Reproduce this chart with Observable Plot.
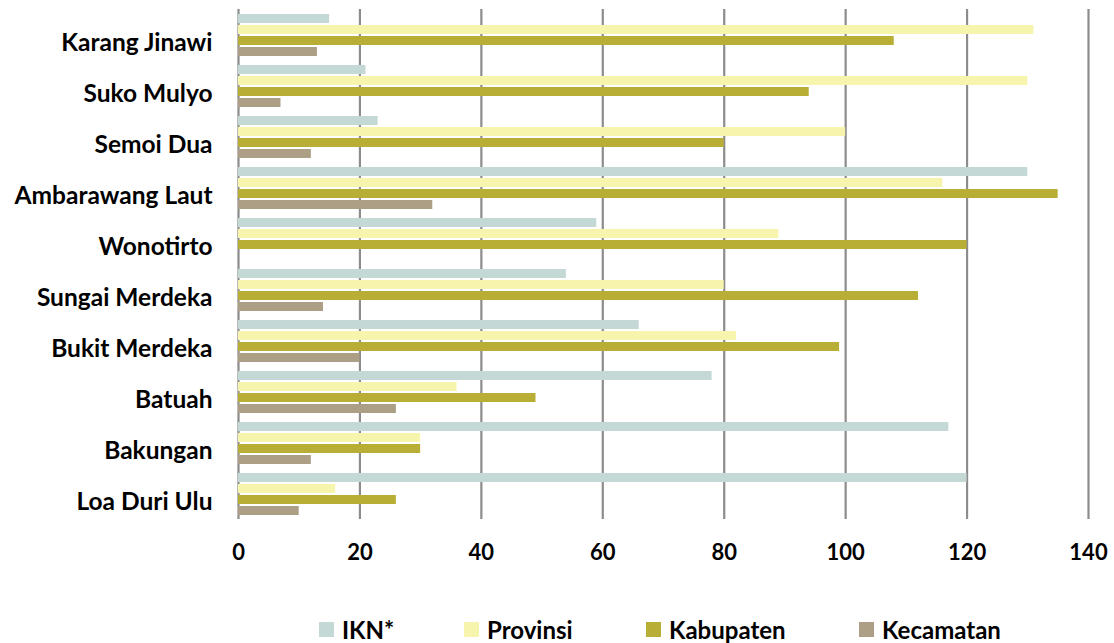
<!DOCTYPE html>
<html>
<head>
<meta charset="utf-8">
<script src="https://cdn.jsdelivr.net/npm/d3@7"></script>
<script src="https://cdn.jsdelivr.net/npm/@observablehq/plot@0.6"></script>
<style>
  html, body { margin: 0; padding: 0; background: #fff; }
  body { width: 1114px; height: 643px; position: relative; overflow: hidden; font-family: Lato, sans-serif; }
  #legend { position: absolute; left: 0; top: 0; width: 1114px; height: 643px; pointer-events: none; font-family: Lato, sans-serif; font-weight: bold; font-size: 24px; color: #000; }
  #legend .item { position: absolute; top: 614px; height: 30px; display: flex; align-items: center; white-space: nowrap; }
  #legend .sw { width: 15px; height: 15px; margin-right: 8px; }
</style>
</head>
<body>
<div id="chart"></div>
<div id="legend"></div>
<script>
const categories = ["Karang Jinawi", "Suko Mulyo", "Semoi Dua", "Ambarawang Laut", "Wonotirto", "Sungai Merdeka", "Bukit Merdeka", "Batuah", "Bakungan", "Loa Duri Ulu"];
const series = ["IKN*", "Provinsi", "Kabupaten", "Kecamatan"];
const ikn       = [15, 21, 23, 130, 59, 54, 66, 78, 117, 120];
const provinsi  = [131, 130, 100, 116, 89, 80, 82, 36, 30, 16];
const kabupaten = [108, 94, 80, 135, 120, 112, 99, 49, 30, 26];
const kecamatan = [13, 7, 12, 32, 0, 14, 20, 26, 12, 10];
const colors = ["#c4d8d6", "#f7f4ad", "#b8ae36", "#ad9f85"];
const xTicks = [0, 20, 40, 60, 80, 100, 120, 140];
const legendLeft = [319, 464, 646, 859];

const seriesValues = [ikn, provinsi, kabupaten, kecamatan];
const data = categories.flatMap((c, i) => series.map((s, j) => ({category: c, series: s, value: seriesValues[j][i]})));

const chart = Plot.plot({
  width: 1114,
  height: 580,
  marginLeft: 238,
  marginRight: 26,
  marginTop: 9,
  marginBottom: 61,
  style: {fontFamily: "Lato, sans-serif", fontWeight: "bold", color: "#000", background: "#fff"},
  x: {domain: [0, 140]},
  y: {domain: series, paddingInner: 0.19, paddingOuter: 0.28, axis: null},
  fy: {domain: categories, padding: 0},
  color: {domain: series, range: colors},
  marks: [
    Plot.ruleX(xTicks, {x: d => d, stroke: "#8c8c8c", strokeWidth: 2.2, strokeOpacity: 1}),
    Plot.barX(data, {fy: "category", y: "series", x: "value", fill: "series"}),
    Plot.axisX({anchor: "bottom", ticks: xTicks, tickSize: 0, tickPadding: 25, fontSize: 22, fontWeight: "bold", label: null, fill: "#000"}),
    Plot.axisFy({anchor: "left", tickSize: 0, tickPadding: 26, fontSize: 24.5, fontWeight: "bold", dy: 8, label: null, fill: "#000"})
  ]
});
document.getElementById("chart").appendChild(chart);

const legend = document.getElementById("legend");
series.forEach((s, i) => {
  const item = document.createElement("div");
  item.className = "item";
  item.style.left = legendLeft[i] + "px";
  const sw = document.createElement("span");
  sw.className = "sw";
  sw.style.background = colors[i];
  const t = document.createElement("span");
  t.textContent = s;
  item.appendChild(sw);
  item.appendChild(t);
  legend.appendChild(item);
});
</script>
</body>
</html>
